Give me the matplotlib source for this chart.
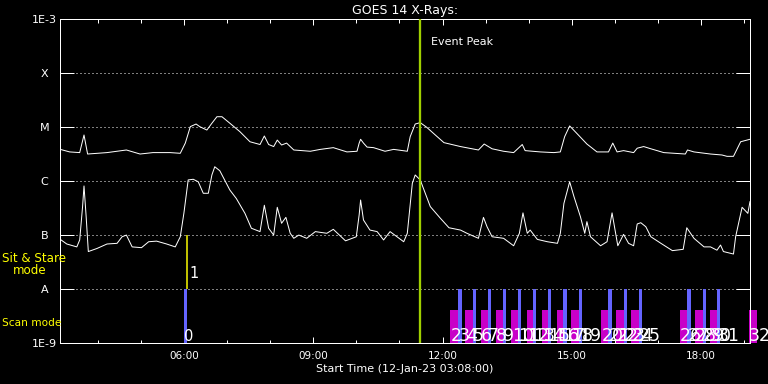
import matplotlib
matplotlib.use('Agg')
import matplotlib.pyplot as plt
from matplotlib.ticker import FixedLocator, NullLocator

# ------------------------------
# datos (hora UT, flujo W/m^2)
# ------------------------------
long_times = ['03:08', '03:21', '03:35', '03:41', '03:46', '04:13', '04:40', '04:59', '05:17',
              '05:41', '05:55', '06:02', '06:09', '06:17', '06:22', '06:32', '06:39', '06:46',
              '06:53', '07:04', '07:18', '07:32', '07:46', '07:52', '07:58', '08:05', '08:10',
              '08:16', '08:23', '08:33', '08:56', '09:10', '09:28', '09:47', '10:01', '10:04',
              '10:06', '10:10', '10:15', '10:24', '10:40', '10:52', '11:11', '11:15', '11:22',
              '11:29', '11:38', '11:50', '12:02', '12:25', '12:50', '12:58', '13:09', '13:25',
              '13:39', '13:51', '13:55', '14:16', '14:35', '14:44', '14:50', '14:57', '15:07',
              '15:21', '15:35', '15:51', '15:57', '16:03', '16:12', '16:26', '16:31', '16:40',
              '16:50', '17:08', '17:38', '17:41', '17:50', '18:13', '18:29', '18:36', '18:45',
              '18:55', '19:08']
long_flux = [3.9e-6, 3.5e-6, 3.4e-6, 7.2e-6, 3.2e-6, 3.4e-6, 3.8e-6, 3.2e-6, 3.4e-6,
             3.4e-6, 3.3e-6, 5.1e-6, 1.03e-5, 1.15e-5, 1.03e-5, 8.9e-6, 1.19e-5, 1.57e-5,
             1.57e-5, 1.19e-5, 8.3e-6, 5.4e-6, 4.8e-6, 6.9e-6, 4.8e-6, 4.4e-6, 5.8e-6,
             4.7e-6, 5.1e-6, 3.8e-6, 3.6e-6, 3.9e-6, 4.2e-6, 3.5e-6, 3.6e-6, 5.1e-6,
             6.0e-6, 5.1e-6, 4.3e-6, 4.2e-6, 3.6e-6, 3.9e-6, 3.6e-6, 6.7e-6, 1.15e-5,
             1.22e-5, 1.0e-5, 7.2e-6, 5.2e-6, 4.4e-6, 3.8e-6, 4.9e-6, 4.0e-6, 3.6e-6,
             3.4e-6, 4.8e-6, 3.7e-6, 3.5e-6, 3.4e-6, 3.5e-6, 6.7e-6, 1.06e-5, 7.7e-6,
             4.9e-6, 3.5e-6, 3.5e-6, 5.1e-6, 3.5e-6, 3.7e-6, 3.4e-6, 4.1e-6, 4.4e-6,
             4.0e-6, 3.4e-6, 3.2e-6, 3.8e-6, 3.5e-6, 3.2e-6, 3.07e-6, 2.9e-6, 2.9e-6,
             5.4e-6, 6.0e-6]

short_times = ['03:08', '03:17', '03:31', '03:35', '03:39', '03:41', '03:44', '03:47', '03:59',
               '04:13', '04:27', '04:34', '04:40', '04:48', '05:01', '05:11', '05:22', '05:36',
               '05:48', '05:55', '06:00', '06:06', '06:13', '06:20', '06:27', '06:34', '06:39',
               '06:43', '06:50', '07:04', '07:13', '07:25', '07:34', '07:46', '07:52', '07:58',
               '08:05', '08:10', '08:16', '08:22', '08:28', '08:33', '08:40', '08:51', '09:03',
               '09:19', '09:28', '09:45', '10:00', '10:04', '10:06', '10:10', '10:19', '10:29',
               '10:38', '10:47', '11:06', '11:11', '11:18', '11:22', '11:29', '11:43', '11:57',
               '12:09', '12:25', '12:34', '12:50', '12:57', '13:02', '13:09', '13:25', '13:39',
               '13:47', '13:52', '13:58', '14:02', '14:12', '14:26', '14:40', '14:44', '14:49',
               '14:57', '15:03', '15:12', '15:18', '15:21', '15:26', '15:40', '15:49', '15:56',
               '16:04', '16:12', '16:19', '16:26', '16:31', '16:36', '16:43', '16:50', '17:04',
               '17:20', '17:35', '17:40', '17:50', '18:04', '18:13', '18:22', '18:27', '18:31',
               '18:45', '18:48', '18:57', '19:05', '19:08']
short_flux = [8.4e-8, 6.9e-8, 6.1e-8, 8.2e-8, 3.4e-7, 8.2e-7, 2.2e-7, 5.0e-8, 5.7e-8,
              6.9e-8, 7.1e-8, 9.4e-8, 1.01e-7, 6.1e-8, 5.9e-8, 7.6e-8, 7.8e-8, 6.9e-8,
              6.1e-8, 9.4e-8, 2.55e-7, 1.06e-6, 1.09e-6, 9.8e-7, 6.0e-7, 6.0e-7, 1.31e-6,
              1.86e-6, 1.57e-6, 6.9e-7, 4.8e-7, 2.55e-7, 1.35e-7, 1.17e-7, 3.6e-7, 1.35e-7,
              1.01e-7, 3.3e-7, 1.67e-7, 2.15e-7, 1.09e-7, 8.8e-8, 1.01e-7, 8.8e-8, 1.17e-7,
              1.09e-7, 1.29e-7, 7.9e-8, 9.4e-8, 2.4e-7, 4.5e-7, 1.92e-7, 1.25e-7, 1.17e-7,
              8.2e-8, 1.17e-7, 7.6e-8, 1.09e-7, 9.2e-7, 1.31e-6, 1.06e-6, 3.4e-7, 2.07e-7,
              1.38e-7, 1.25e-7, 1.09e-7, 8.8e-8, 2.15e-7, 1.44e-7, 9.4e-8, 8.8e-8, 6.4e-8,
              1.09e-7, 2.6e-7, 1.09e-7, 1.25e-7, 8.4e-8, 7.6e-8, 7.1e-8, 1.09e-7, 3.9e-7,
              9.8e-7, 5.2e-7, 2.2e-7, 1.09e-7, 1.79e-7, 9.4e-8, 6.4e-8, 7.6e-8, 2.6e-7,
              6.4e-8, 1.04e-7, 7.1e-8, 6.4e-8, 1.62e-7, 1.71e-7, 1.44e-7, 9.4e-8, 7.1e-8,
              5.2e-8, 5.5e-8, 1.38e-7, 8.8e-8, 6.1e-8, 6.1e-8, 5.3e-8, 6.6e-8, 5.0e-8,
              4.5e-8, 9.4e-8, 3.3e-7, 2.55e-7, 4.2e-7]

event_peak = '11:28'

# observaciones: modo scan (azul), sit & stare (amarillo), raster (magenta)
scan_ids = [0, 3, 5, 7, 9, 11, 13, 15, 17, 19, 21, 23, 25, 27, 29, 31]
scan_starts = ['06:00', '12:22', '12:42', '13:03', '13:24', '13:45', '14:06', '14:27', '14:48',
               '15:10', '15:51', '16:12', '16:33', '17:41', '18:02', '18:22']
stare_ids = [1]
stare_starts = ['06:04']
raster_ids = [2, 4, 6, 8, 10, 12, 14, 16, 18, 20, 22, 24, 26, 28, 30, 32]
raster_starts = ['12:11', '12:32', '12:53', '13:14', '13:36', '13:57', '14:18', '14:39', '14:59',
                 '15:41', '16:02', '16:23', '17:30', '17:51', '18:12', '19:06']

goes_levels = [1e-9, 1e-8, 1e-7, 1e-6, 1e-5, 1e-4, 1e-3]
goes_labels = ['1E-9', 'A', 'B', 'C', 'M', 'X', '1E-3']
hour_ticks = ['06:00', '09:00', '12:00', '15:00', '18:00']
t_start, t_end = '03:08', '19:08'


def hm(s):
    h, m = s.split(':')
    return int(h) + int(m) / 60.0


def hours(lst):
    return [hm(s) for s in lst]


# ------------------------------
# figura
# ------------------------------
PX = 0.72  # 1 pixel en puntos
fig = plt.figure(figsize=(7.68, 3.84), dpi=100, facecolor='black')
ax = fig.add_axes([60.3 / 768, 1 - 343.3 / 384, 689.7 / 768, 324 / 384])
ax.set_facecolor('black')
ax.set_yscale('log')
ax.set_ylim(1e-9, 1e-3)
ax.set_xlim(hm(t_start), hm(t_end))

for sp in ax.spines.values():
    sp.set_color('white')
    sp.set_linewidth(1.0 * PX)

# rejilla punteada en los niveles GOES
ax.set_axisbelow(True)
ax.yaxis.grid(True, which='major', color='white', linestyle=(0, (1, 3)), linewidth=1.0 * PX)

ax.yaxis.set_major_locator(FixedLocator(goes_levels))
ax.yaxis.set_minor_locator(NullLocator())
ax.set_yticklabels(goes_labels)
ax.tick_params(axis='y', which='major', direction='in', length=14 * PX, width=PX,
               left=True, right=True, color='white', labelcolor='white',
               labelsize=8, pad=16 * PX)
for lab in ax.get_yticklabels():
    lab.set_horizontalalignment('center')

ax.xaxis.set_major_locator(FixedLocator(hours(hour_ticks)))
ax.xaxis.set_minor_locator(FixedLocator(list(range(4, 20))))
ax.set_xticklabels(hour_ticks)
ax.tick_params(axis='x', which='major', direction='in', length=6 * PX, width=PX,
               top=True, bottom=True, color='white', labelcolor='white',
               labelsize=7.5, pad=8 * PX)
ax.tick_params(axis='x', which='minor', direction='in', length=3.5 * PX, width=PX,
               top=True, bottom=True, color='white')

# curvas GOES
ax.plot(hours(long_times), long_flux, color='white', lw=1.0 * PX, zorder=3)
ax.plot(hours(short_times), short_flux, color='white', lw=1.0 * PX, zorder=3)

# barras de observacion
blue_w = 3.3 / 43.07
mag_w = 8.4 / 43.07
raster_top = 4.1e-9
ax.bar(hours(raster_starts), [raster_top - 1e-9] * len(raster_starts), bottom=1e-9,
       width=mag_w, align='edge', color='#c800c8', zorder=2, clip_on=False)
ax.bar(hours(scan_starts), [1e-8 - 1e-9] * len(scan_starts), bottom=1e-9,
       width=blue_w, align='edge', color='#6464ff', zorder=2.5)
ax.vlines(hours(stare_starts), 1e-8, 1e-7, color='yellow', lw=1.5 * PX, zorder=2.5)

num_font = ['Liberation Sans Narrow', 'DejaVu Sans']
for i, t in zip(scan_ids + raster_ids, scan_starts + raster_starts):
    big = i >= 2
    ax.text(hm(t) + 0.3 / 43.07, 1.12e-9, str(i), color='white',
            fontsize=12.5 if big else 10.5, family=num_font, ha='left', va='baseline',
            zorder=4, clip_on=False)
for i, t in zip(stare_ids, stare_starts):
    ax.text(hm(t) + 2.5 / 43.07, 1.62e-8, str(i), color='white', fontsize=10.5,
            family=num_font, ha='left', va='baseline', zorder=4)

# pico del evento
ax.axvline(hm(event_peak), color='#a0d000', lw=2.3 * PX, zorder=5)
ax.annotate('Event Peak', xy=(hm(event_peak), 1e-3), xytext=(8, -16.5),
            textcoords='offset points', color='white', fontsize=8, ha='left', va='center')

ax.set_title('GOES 14 X-Rays:', color='white', fontsize=9, pad=4)
ax.set_xlabel('Start Time (12-Jan-23 03:08:00)', color='white', fontsize=8, labelpad=2)

fig.text(1.7 / 768, 1 - 259 / 384, 'Sit & Stare', color='yellow', fontsize=8.6,
         ha='left', va='center')
fig.text(12.7 / 768, 1 - 271 / 384, 'mode', color='yellow', fontsize=8.6,
         ha='left', va='center')
fig.text(1.7 / 768, 1 - 323.5 / 384, 'Scan mode', color='yellow', fontsize=7.6,
         ha='left', va='center')

fig.savefig('out.png', dpi=100, facecolor='black')
